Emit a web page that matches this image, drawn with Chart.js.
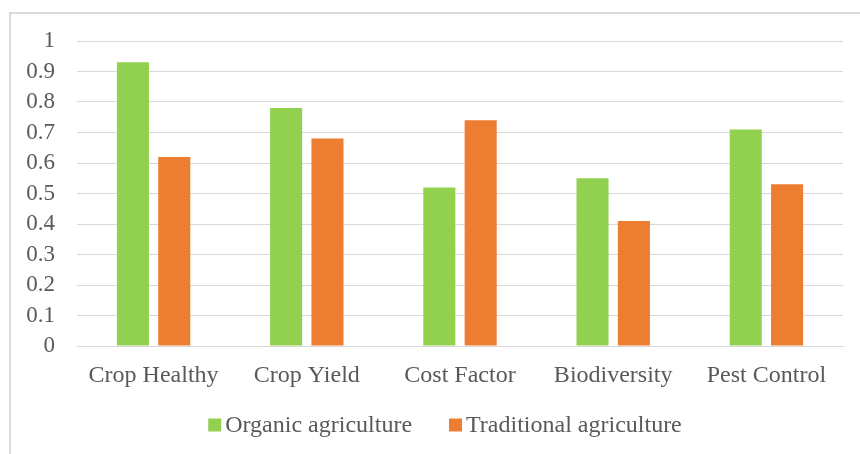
<!DOCTYPE html>
<html>
<head>
<meta charset="utf-8">
<script src="https://cdn.jsdelivr.net/npm/chart.js@4/dist/chart.umd.min.js"></script>
<style>
  html, body { margin: 0; padding: 0; background: #fff; }
  .wrap { position: relative; width: 860px; height: 454px; overflow: hidden; }
  .frame {
    position: absolute; left: 9px; top: 12px; width: 900px; height: 500px;
    border-top: 2px solid #d9d9d9; border-left: 2px solid #d9d9d9;
  }
  canvas { position: absolute; left: 0; top: 0; }
</style>
</head>
<body>
<div class="wrap">
  <div class="frame"></div>
  <canvas id="chart" width="860" height="454"></canvas>
</div>
<script>
// ---- data ----
const categories = ['Crop Healthy', 'Crop Yield', 'Cost Factor', 'Biodiversity', 'Pest Control'];
const organic = [0.93, 0.78, 0.52, 0.55, 0.71];
const traditional = [0.62, 0.68, 0.74, 0.41, 0.53];
const yMin = 0, yMax = 1, yStep = 0.1;

const textColor = '#595959';
const gridColor = '#d9d9d9';
const fontFamily = "'Liberation Serif', 'Times New Roman', serif";

// legend drawn by hand: small square, tight gap to the text, centred under the frame
const bottomLegend = {
  id: 'bottomLegend',
  afterDraw(chart, args, opts) {
    const ctx = chart.ctx;
    const items = chart.data.datasets.map(ds => ({ text: ds.label, color: ds.backgroundColor }));
    ctx.save();
    ctx.font = `${opts.fontSize}px ${fontFamily}`;
    const widths = items.map(it => opts.box + opts.boxGap + ctx.measureText(it.text).width);
    const total = widths.reduce((a, b) => a + b, 0) + opts.itemGap * (items.length - 1);
    let x = opts.centerX - total / 2;
    items.forEach((it, i) => {
      ctx.fillStyle = it.color;
      ctx.fillRect(x, opts.y - opts.box / 2, opts.box, opts.box);
      ctx.fillStyle = textColor;
      ctx.textBaseline = 'middle';
      ctx.textAlign = 'left';
      ctx.fillText(it.text, x + opts.box + opts.boxGap, opts.y + 1);
      x += widths[i] + opts.itemGap;
    });
    ctx.restore();
  }
};

new Chart(document.getElementById('chart'), {
  type: 'bar',
  data: {
    labels: categories,
    datasets: [
      { label: 'Organic agriculture', data: organic, backgroundColor: '#92D050',
        categoryPercentage: 0.54, barPercentage: 0.775 },
      { label: 'Traditional agriculture', data: traditional, backgroundColor: '#ED7D31',
        categoryPercentage: 0.54, barPercentage: 0.775 }
    ]
  },
  plugins: [bottomLegend],
  options: {
    responsive: false,
    animation: false,
    layout: { padding: { top: 41, left: 0, right: 17, bottom: 54 } },
    plugins: {
      tooltip: { enabled: false },
      legend: { display: false },
      bottomLegend: { fontSize: 24, box: 13, boxGap: 4, itemGap: 37, centerX: 445, y: 425 }
    },
    scales: {
      x: {
        grid: { display: false, drawTicks: false },
        border: { color: gridColor, width: 1 },
        ticks: { color: textColor, font: { family: fontFamily, size: 24 }, padding: 15, maxRotation: 0 },
        afterFit: s => { s.height = 54; }
      },
      y: {
        min: yMin, max: yMax,
        grid: { color: gridColor, lineWidth: 1, drawTicks: false },
        border: { display: false },
        ticks: {
          stepSize: yStep, padding: 22, color: textColor, autoSkip: false,
          font: { family: fontFamily, size: 23 },
          callback: v => +v.toFixed(1)
        },
        afterFit: s => { s.width = 77; }
      }
    }
  }
});
</script>
</body>
</html>
